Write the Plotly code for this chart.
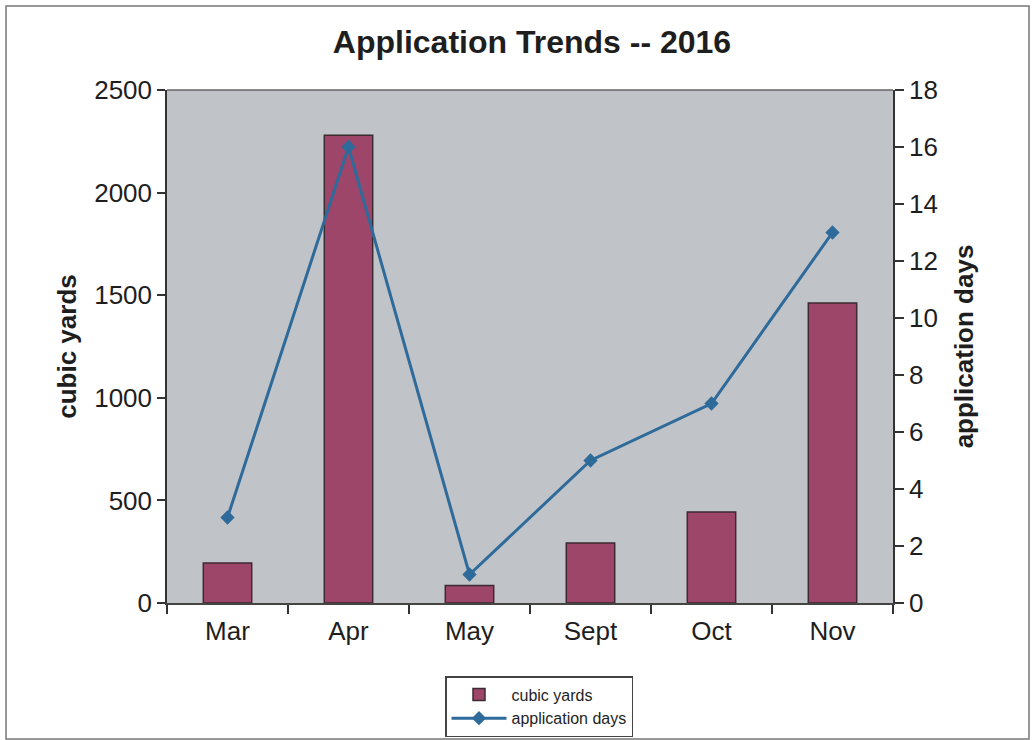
import plotly.graph_objects as go

# Monthly application data for 2016
months = ["Mar", "Apr", "May", "Sept", "Oct", "Nov"]
cubic_yards = [195, 2280, 85, 292, 443, 1462]
application_days = [3, 16, 1, 5, 7, 13]

left_ticks = [0, 500, 1000, 1500, 2000, 2500]
right_ticks = [0, 2, 4, 6, 8, 10, 12, 14, 16, 18]

W, H = 1033, 740
ML, MR, MT, MB = 167, 140, 90, 137
PW, PH = W - ML - MR, H - MT - MB


def px_x(p):
    return (p - ML) / PW


def px_y(p):
    return (H - MB - p) / PH


FONT = "Liberation Sans, Arial, sans-serif"
INK = "#1e1e1e"

fig = go.Figure()

fig.add_trace(go.Bar(
    x=months, y=cubic_yards, name="cubic yards",
    marker=dict(color="#9d466a", line=dict(color="#3b2a30", width=1.5)),
    width=0.4,
))

fig.add_trace(go.Scatter(
    x=months, y=application_days, name="application days", yaxis="y2",
    mode="lines+markers",
    line=dict(color="#2f6b9a", width=3),
    marker=dict(symbol="diamond", size=11, color="#2f6b9a"),
))

fig.update_layout(
    width=W, height=H,
    margin=dict(l=ML, r=MR, t=MT, b=MB, autoexpand=False),
    paper_bgcolor="white",
    plot_bgcolor="#c0c4c8",
    font=dict(family=FONT, color=INK, size=22),
    title=dict(text="<b>Application Trends -- 2016</b>", x=0.515, xanchor="center",
               y=1 - 42 / H, yanchor="middle",
               font=dict(size=32, color=INK, family=FONT)),
    bargap=0.6,
    xaxis=dict(
        type="category", tickson="boundaries", ticks="outside", ticklen=9,
        tickcolor="#333", tickwidth=1.5, showgrid=False,
        showline=True, linecolor="#444", linewidth=1.5,
        tickfont=dict(size=26, color=INK), ticklabelstandoff=4,
    ),
    yaxis=dict(
        range=[0, 2500], tickvals=left_ticks, ticks="outside", ticklen=8,
        tickcolor="#333", tickwidth=1.5, showgrid=False, zeroline=False,
        showline=True, linecolor="#333", linewidth=1.5,
        tickfont=dict(size=26, color=INK),
        title=dict(text="<b>cubic yards</b>", font=dict(size=26, color=INK), standoff=10),
    ),
    yaxis2=dict(
        overlaying="y", side="right", range=[0, 18], tickvals=right_ticks,
        ticks="outside", ticklen=9, tickcolor="#333", tickwidth=1.5,
        showgrid=False, zeroline=False,
        showline=True, linecolor="#333", linewidth=1.5,
        tickfont=dict(size=26, color=INK),
        title=dict(text="<b>application days</b>", font=dict(size=26, color=INK), standoff=18),
    ),
    legend=dict(
        x=px_x(539), xanchor="center", y=px_y(676), yanchor="top",
        bgcolor="white", bordercolor="#444", borderwidth=1.5,
        font=dict(size=16, color=INK), itemwidth=55, tracegroupgap=0,
    ),
    shapes=[
        # top edge of the plotting area
        dict(type="line", xref="paper", yref="paper", x0=0, x1=1, y0=1, y1=1,
             line=dict(color="#666", width=1.5)),
        # outer chart frame
        dict(type="rect", xref="paper", yref="paper",
             x0=px_x(6), x1=px_x(1029), y0=px_y(6), y1=px_y(739),
             line=dict(color="#777", width=1.5)),
    ],
)

fig.write_html("out.html")
